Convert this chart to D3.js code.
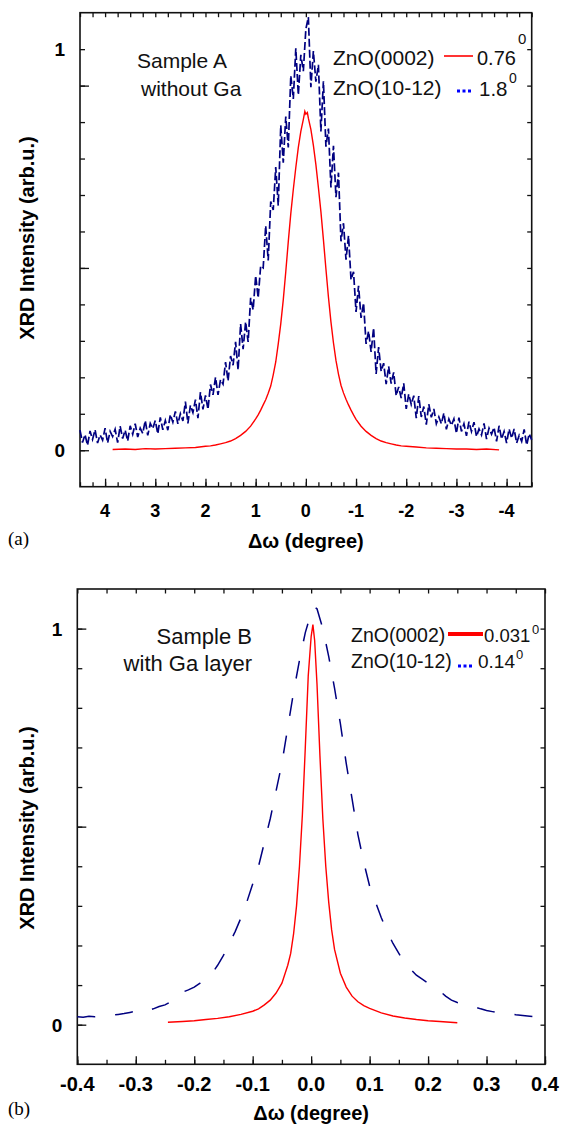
<!DOCTYPE html>
<html><head><meta charset="utf-8">
<script src="https://cdn.jsdelivr.net/npm/d3@7"></script>
<style>body{margin:0;background:#fff}svg{display:block}</style>
</head><body>
<script>
// ---------------- DATA ----------------
// Panel (a): Sample A without Ga  (x = delta omega in degrees, y = normalized intensity)
const redA = [[3.85,0.002],[3.6,0.003],[3.4,0.002],[3.2,0.004],[3.0,0.003],[2.8,0.004],[2.6,0.005],[2.4,0.006],[2.2,0.007],[2.0,0.010],[1.9,0.011],[1.8,0.013],[1.7,0.016],[1.6,0.019],[1.5,0.023],[1.4,0.029],[1.3,0.037],[1.2,0.047],[1.1,0.060],[1.0,0.078],[0.95,0.088],[0.9,0.100],[0.85,0.113],[0.8,0.126],[0.75,0.142],[0.7,0.160],[0.65,0.188],[0.6,0.220],[0.55,0.265],[0.5,0.315],[0.45,0.375],[0.4,0.445],[0.35,0.520],[0.3,0.590],[0.25,0.650],[0.2,0.705],[0.15,0.755],[0.1,0.795],[0.05,0.825],[0.02,0.845],[0.0,0.838],[-0.03,0.842],[-0.05,0.828],[-0.1,0.800],[-0.15,0.760],[-0.2,0.712],[-0.25,0.655],[-0.3,0.595],[-0.35,0.525],[-0.4,0.452],[-0.45,0.382],[-0.5,0.320],[-0.55,0.268],[-0.6,0.224],[-0.65,0.190],[-0.7,0.162],[-0.75,0.143],[-0.8,0.127],[-0.85,0.113],[-0.9,0.100],[-0.95,0.088],[-1.0,0.077],[-1.1,0.060],[-1.2,0.047],[-1.3,0.037],[-1.4,0.029],[-1.5,0.023],[-1.6,0.019],[-1.7,0.016],[-1.8,0.013],[-1.9,0.011],[-2.0,0.010],[-2.2,0.008],[-2.4,0.006],[-2.6,0.005],[-2.8,0.004],[-3.0,0.003],[-3.2,0.003],[-3.4,0.002],[-3.6,0.003],[-3.85,0.001]];
const blueA = [[4.50,0.050],[4.45,0.019],[4.40,0.039],[4.35,0.012],[4.30,0.048],[4.25,0.027],[4.20,0.051],[4.15,0.018],[4.10,0.038],[4.05,0.025],[4.00,0.055],[3.95,0.018],[3.90,0.047],[3.85,0.034],[3.80,0.052],[3.75,0.019],[3.70,0.060],[3.65,0.029],[3.60,0.050],[3.55,0.023],[3.50,0.061],[3.45,0.040],[3.40,0.066],[3.35,0.033],[3.30,0.055],[3.25,0.042],[3.20,0.074],[3.15,0.037],[3.10,0.067],[3.05,0.054],[3.00,0.074],[2.95,0.041],[2.90,0.082],[2.85,0.051],[2.80,0.074],[2.75,0.050],[2.70,0.089],[2.65,0.070],[2.60,0.097],[2.55,0.066],[2.50,0.091],[2.45,0.073],[2.40,0.121],[2.35,0.067],[2.30,0.112],[2.25,0.094],[2.20,0.126],[2.15,0.080],[2.10,0.145],[2.05,0.102],[2.00,0.137],[1.95,0.102],[1.90,0.164],[1.85,0.138],[1.80,0.182],[1.75,0.138],[1.70,0.176],[1.65,0.165],[1.60,0.220],[1.55,0.173],[1.50,0.235],[1.45,0.212],[1.40,0.270],[1.35,0.200],[1.30,0.315],[1.25,0.252],[1.20,0.320],[1.15,0.270],[1.10,0.380],[1.05,0.350],[1.00,0.435],[0.95,0.380],[0.90,0.460],[0.85,0.455],[0.80,0.560],[0.75,0.473],[0.70,0.620],[0.65,0.599],[0.60,0.706],[0.55,0.610],[0.50,0.810],[0.45,0.717],[0.40,0.832],[0.35,0.755],[0.30,0.934],[0.25,0.876],[0.20,1.002],[0.15,0.886],[0.10,0.986],[0.05,0.945],[0.00,1.050],[-0.05,1.080],[-0.10,0.905],[-0.15,0.995],[-0.20,0.919],[-0.25,0.961],[-0.30,0.795],[-0.35,0.920],[-0.40,0.757],[-0.45,0.802],[-0.50,0.655],[-0.55,0.759],[-0.60,0.631],[-0.65,0.692],[-0.70,0.521],[-0.75,0.566],[-0.80,0.475],[-0.85,0.535],[-0.90,0.425],[-0.95,0.445],[-1.00,0.345],[-1.05,0.410],[-1.10,0.330],[-1.15,0.367],[-1.20,0.265],[-1.25,0.297],[-1.30,0.245],[-1.35,0.305],[-1.40,0.190],[-1.45,0.257],[-1.50,0.197],[-1.55,0.217],[-1.60,0.165],[-1.65,0.209],[-1.70,0.166],[-1.75,0.194],[-1.80,0.136],[-1.85,0.158],[-1.90,0.130],[-1.95,0.167],[-2.00,0.103],[-2.05,0.140],[-2.10,0.114],[-2.15,0.136],[-2.20,0.080],[-2.25,0.135],[-2.30,0.083],[-2.35,0.109],[-2.40,0.064],[-2.45,0.115],[-2.50,0.082],[-2.55,0.103],[-2.60,0.066],[-2.65,0.083],[-2.70,0.066],[-2.75,0.093],[-2.80,0.052],[-2.85,0.078],[-2.90,0.062],[-2.95,0.078],[-3.00,0.042],[-3.05,0.081],[-3.10,0.047],[-3.15,0.066],[-3.20,0.036],[-3.25,0.071],[-3.30,0.047],[-3.35,0.070],[-3.40,0.034],[-3.45,0.053],[-3.50,0.038],[-3.55,0.067],[-3.60,0.028],[-3.65,0.055],[-3.70,0.040],[-3.75,0.057],[-3.80,0.022],[-3.85,0.061],[-3.90,0.028],[-3.95,0.047],[-4.00,0.018],[-4.05,0.053],[-4.10,0.030],[-4.15,0.053],[-4.20,0.018],[-4.25,0.037],[-4.30,0.022],[-4.35,0.052],[-4.40,0.013],[-4.45,0.041],[-4.50,0.026]];
// Panel (b): Sample B with Ga layer
const redB = [[-0.245,0.006],[-0.22,0.008],[-0.2,0.010],[-0.18,0.013],[-0.16,0.016],[-0.14,0.020],[-0.12,0.026],[-0.1,0.034],[-0.09,0.040],[-0.08,0.050],[-0.07,0.062],[-0.06,0.080],[-0.05,0.105],[-0.04,0.150],[-0.035,0.18],[-0.03,0.23],[-0.025,0.30],[-0.02,0.40],[-0.015,0.53],[-0.01,0.70],[-0.005,0.88],[0.0,0.98],[0.003,1.01],[0.006,0.97],[0.01,0.86],[0.015,0.68],[0.02,0.52],[0.025,0.40],[0.03,0.31],[0.035,0.24],[0.04,0.19],[0.05,0.13],[0.06,0.095],[0.07,0.072],[0.08,0.058],[0.09,0.048],[0.1,0.041],[0.12,0.030],[0.14,0.022],[0.16,0.017],[0.18,0.013],[0.2,0.010],[0.22,0.008],[0.25,0.005]];
const blueB = [[-0.40,0.020],[-0.39,0.019],[-0.38,0.021],[-0.37,0.020],[-0.35,0.022],[-0.33,0.026],[-0.32,0.028],[-0.31,0.031],[-0.30,0.034],[-0.29,0.030],[-0.28,0.036],[-0.27,0.040],[-0.26,0.046],[-0.25,0.050],[-0.24,0.058],[-0.23,0.075],[-0.22,0.082],[-0.21,0.088],[-0.20,0.095],[-0.19,0.105],[-0.18,0.118],[-0.17,0.128],[-0.16,0.150],[-0.15,0.175],[-0.14,0.205],[-0.13,0.235],[-0.12,0.27],[-0.11,0.31],[-0.10,0.355],[-0.09,0.40],[-0.08,0.46],[-0.07,0.52],[-0.06,0.59],[-0.05,0.66],[-0.04,0.75],[-0.03,0.84],[-0.02,0.92],[-0.01,0.99],[0.0,1.04],[0.005,1.055],[0.01,1.05],[0.02,1.00],[0.03,0.93],[0.04,0.85],[0.05,0.76],[0.06,0.66],[0.07,0.57],[0.08,0.48],[0.09,0.41],[0.10,0.35],[0.11,0.31],[0.12,0.27],[0.13,0.235],[0.14,0.205],[0.15,0.18],[0.16,0.155],[0.17,0.14],[0.18,0.125],[0.19,0.115],[0.20,0.105],[0.21,0.098],[0.22,0.085],[0.23,0.072],[0.24,0.062],[0.25,0.056],[0.26,0.052],[0.27,0.050],[0.28,0.045],[0.29,0.040],[0.30,0.036],[0.31,0.033],[0.32,0.030],[0.33,0.029],[0.34,0.027],[0.35,0.025],[0.37,0.022],[0.39,0.019],[0.40,0.018]];

const xTickLabelsA = [4,3,2,1,0,-1,-2,-3,-4];
const xMinorA = [4.5,4.25,4,3.75,3.5,3.25,3,2.75,2.5,2.25,2,1.75,1.5,1.25,1,0.75,0.5,0.25,0,-0.25,-0.5,-0.75,-1,-1.25,-1.5,-1.75,-2,-2.25,-2.5,-2.75,-3,-3.25,-3.5,-3.75,-4,-4.25,-4.5];
const yMinorA = [0,1/11,2/11,3/11,4/11,5/11,6/11,7/11,8/11,9/11,10/11,1];
const yMajorA = [0,5/11,10/11];
const xTickLabelsB = [-0.4,-0.3,-0.2,-0.1,0.0,0.1,0.2,0.3,0.4];
const xMinorB = [-0.4,-0.35,-0.3,-0.25,-0.2,-0.15,-0.1,-0.05,0,0.05,0.1,0.15,0.2,0.25,0.3,0.35,0.4];
const yMinorB = [0,0.1,0.2,0.3,0.4,0.5,0.6,0.7,0.8,0.9,1.0];
const yMajorB = [0,0.5,1.0];
const yLabels = [0,1];

// ---------------- DRAW ----------------
const SANS = "'Liberation Sans', Arial, sans-serif";
const SERIF = "'Liberation Serif', 'Times New Roman', serif";
const svg = d3.select("body").append("svg").attr("width",562).attr("height",1125);

function panel(o){
  const g = svg.append("g");
  const x = d3.scaleLinear().domain(o.xDomain).range([o.left,o.right]);
  const y = d3.scaleLinear().domain(o.yDomain).range([o.bottom,o.top]);
  const tickG = (axisFn, tr, vals, len) => {
    const a = g.append("g").attr("transform",tr)
      .call(axisFn.tickValues(vals).tickSize(len).tickSizeOuter(0).tickFormat(""));
    a.select(".domain").remove();
    a.selectAll(".tick line").attr("stroke","#111").attr("stroke-width",1.3);
  };
  // inward ticks
  tickG(d3.axisBottom(x), `translate(0,${o.bottom})`, o.xMinor, -4.5);
  tickG(d3.axisBottom(x), `translate(0,${o.bottom})`, o.xMajor, -8);
  tickG(d3.axisTop(x), `translate(0,${o.top})`, o.xMinor, -4.5);
  tickG(d3.axisLeft(y), `translate(${o.left},0)`, o.yMinor, -5);
  tickG(d3.axisLeft(y), `translate(${o.left},0)`, o.yMajor, -9);
  tickG(d3.axisRight(y), `translate(${o.right},0)`, o.yMinor, -4.5);
  // frame
  g.append("rect").attr("x",o.left).attr("y",o.top).attr("width",o.right-o.left).attr("height",o.bottom-o.top)
    .attr("fill","none").attr("stroke","#111").attr("stroke-width",1.6);
  // data
  const line = d3.line().x(d=>x(d[0])).y(d=>y(d[1]));
  g.append("path").datum(o.blue).attr("d",line).attr("fill","none")
    .attr("stroke","#000080").attr("stroke-width",o.blueWidth).attr("stroke-dasharray",o.blueDash);
  g.append("path").datum(o.red).attr("d",line).attr("fill","none")
    .attr("stroke","#ff0000").attr("stroke-width",1.4);
  // x tick labels
  g.selectAll("text.xl").data(o.xLabels).join("text").attr("class","xl")
    .attr("x",d=>x(d)).attr("y",o.xLabelY).attr("text-anchor","middle")
    .attr("font-family",SANS).attr("font-weight","bold").attr("font-size",o.xLabelSize)
    .text(o.fmt);
  // y labels
  g.selectAll("text.yl").data(yLabels).join("text").attr("class","yl")
    .attr("x",o.left-15).attr("y",d=>y(d)+7).attr("text-anchor","end")
    .attr("font-family",SANS).attr("font-weight","bold").attr("font-size",19)
    .text(d=>String(d));
  // axis titles
  g.append("text").attr("x",x(0)).attr("y",o.xTitleY).attr("text-anchor","middle")
    .attr("font-family",SANS).attr("font-weight","bold").attr("font-size",20)
    .text(o.xTitle);
  g.append("text").attr("transform",`translate(34,${o.yTitleC}) rotate(-90)`).attr("text-anchor","middle")
    .attr("font-family",SANS).attr("font-weight","bold").attr("font-size",20)
    .text("XRD Intensity (arb.u.)");
  g.append("text").attr("x",8).attr("y",o.tagY).attr("font-family",SERIF).attr("font-size",19).text(o.tag);
  return {g,x,y};
}

// ---- Panel (a)
const A = panel({
  left:80, right:531.7, top:12.7, bottom:486.7,
  xDomain:[4.5,-4.5], yDomain:[-1/11,12/11],
  xMinor:xMinorA, xMajor:xTickLabelsA, yMinor:yMinorA, yMajor:yMajorA,
  red:redA, blue:blueA, blueWidth:1.7, blueDash:"8,3",
  xLabels:xTickLabelsA, xLabelY:517, xLabelSize:18, fmt:d=>String(d),
  xTitle:"\u0394\u03c9  (degree)", xTitleY:548, yTitleC:238, tag:"(a)", tagY:545
});
const tA = (x,y,s,size,anchor)=>A.g.append("text").attr("x",x).attr("y",y).attr("font-family",SANS)
  .attr("font-size",size).attr("text-anchor",anchor||"start").attr("fill","#111").text(s);
tA(137,68,"Sample A",21);
tA(141,96,"without Ga",21);
tA(333,65,"ZnO(0002)",21);
tA(333,95,"ZnO(10-12)",21);
tA(477,65,"0.76",20);
tA(518,44,"0",15);
tA(479,96,"1.8",20.5);
tA(509,83,"0",14);
A.g.append("line").attr("x1",444).attr("x2",473).attr("y1",56).attr("y2",56).attr("stroke","#ff0000").attr("stroke-width",1.6);
A.g.append("line").attr("x1",457).attr("x2",473).attr("y1",91).attr("y2",91).attr("stroke","#0000ff").attr("stroke-width",3).attr("stroke-dasharray","3,2.5");

// ---- Panel (b)
const B = panel({
  left:77.3, right:545, top:589, bottom:1064.3,
  xDomain:[-0.4,0.4], yDomain:[-0.1,1.1],
  xMinor:xMinorB, xMajor:xTickLabelsB, yMinor:yMinorB, yMajor:yMajorB,
  red:redB, blue:blueB, blueWidth:1.5, blueDash:"18,20",
  xLabels:xTickLabelsB, xLabelY:1091, xLabelSize:20, fmt:d=>d.toFixed(1),
  xTitle:"\u0394\u03c9 (degree)", xTitleY:1120, yTitleC:828, tag:"(b)", tagY:1115
});
const tB = (x,y,s,size,anchor)=>B.g.append("text").attr("x",x).attr("y",y).attr("font-family",SANS)
  .attr("font-size",size).attr("text-anchor",anchor||"start").attr("fill","#111").text(s);
tB(252,644,"Sample B",22,"end");
tB(252,671,"with Ga layer",22,"end");
tB(351,642,"ZnO(0002)",19.5);
tB(351,668,"ZnO(10-12)",19.5);
tB(484,642,"0.031",18.5);
tB(532,634,"0",13);
tB(478,668,"0.14",19);
tB(516,659,"0",13);
B.g.append("line").attr("x1",448).attr("x2",483).attr("y1",634).attr("y2",634).attr("stroke","#ff0000").attr("stroke-width",4);
B.g.append("line").attr("x1",458).attr("x2",473).attr("y1",666).attr("y2",666).attr("stroke","#0000ff").attr("stroke-width",3).attr("stroke-dasharray","3,2.5");
</script>
</body></html>
